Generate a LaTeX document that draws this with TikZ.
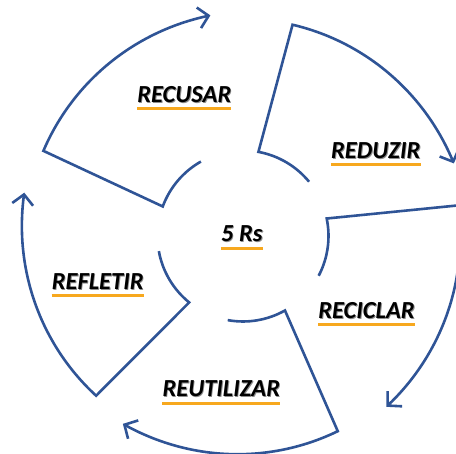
\documentclass[tikz,border=0pt]{standalone}
\usepackage{fontspec}
\setmainfont{Carlito}
\usetikzlibrary{arrows.meta}
\definecolor{cblue}{RGB}{47,84,150}
\definecolor{corange}{RGB}{247,168,30}
% #1 free inner end angle, #2 inner corner angle, #3 outer corner angle, #4 tip angle
\newcommand\drawseg[4]{%
  \draw[seg] (#1:85.5) arc[start angle=#1, end angle=#2, radius=85.5pt]
    -- plot[domain=#3:#4, samples=60] (\x:{217+6*((\x-(#3))/((#4)-(#3)))^2});
}
\begin{document}
\begin{tikzpicture}[x=1pt,y=1pt,
  seg/.style={draw=cblue, line width=2.6pt, line join=miter,
    -{Straight Barb[length=10pt,width=21pt,line width=2.6pt]}},
  lbl/.style={font=\fontsize{24.5}{24.5}\selectfont\bfseries\itshape, inner sep=0pt, anchor=base, text=black,
    preaction={}},
  shadowtxt/.style={font=\fontsize{24.5}{24.5}\selectfont\bfseries\itshape, inner sep=0pt, anchor=base, text=black!45},
  uline/.style={draw=corange, line width=3pt}]
\useasboundingbox (0,0) rectangle (456,454);
\clip (0,0) rectangle (456,454);
\begin{scope}[shift={(243,218)}]
  \drawseg{119.5}{159.8}{156.9}{98.4}
  \drawseg{39.4}{79.6}{76.8}{19.0}
  \drawseg{-27.7}{11.8}{8.1}{-50}
  \drawseg{-100.3}{-60.6}{-64.1}{-122.6}
  \drawseg{190.2}{231}{227.4}{168.8}
\end{scope}
\foreach \px/\py/\t in {184.3/351.5/RECUSAR, 375.8/295.5/REDUZIR, 241.8/212.2/5 Rs,
  366.5/135.5/RECICLAR, 97.7/164.5/REFLETIR, 221.3/57.2/REUTILIZAR}
  \node[shadowtxt] at (\px+0.9,\py-0.9) {\t};
\node[lbl] (recusar) at (184.3,351.5) {RECUSAR};
\node[lbl] (reduzir) at (375.8,295.5) {REDUZIR};
\node[lbl] (rs) at (241.8,212.2) {5 Rs};
\node[lbl] (reciclar) at (366.5,135.5) {RECICLAR};
\node[lbl] (refletir) at (97.7,164.5) {REFLETIR};
\node[lbl] (reutilizar) at (221.3,57.2) {REUTILIZAR};
\foreach \n in {recusar,reduzir,rs,reciclar,refletir,reutilizar}
  \draw[uline] ([yshift=-6.5pt]\n.base west) -- ([yshift=-6.5pt]\n.base east);
\end{tikzpicture}
\end{document}
